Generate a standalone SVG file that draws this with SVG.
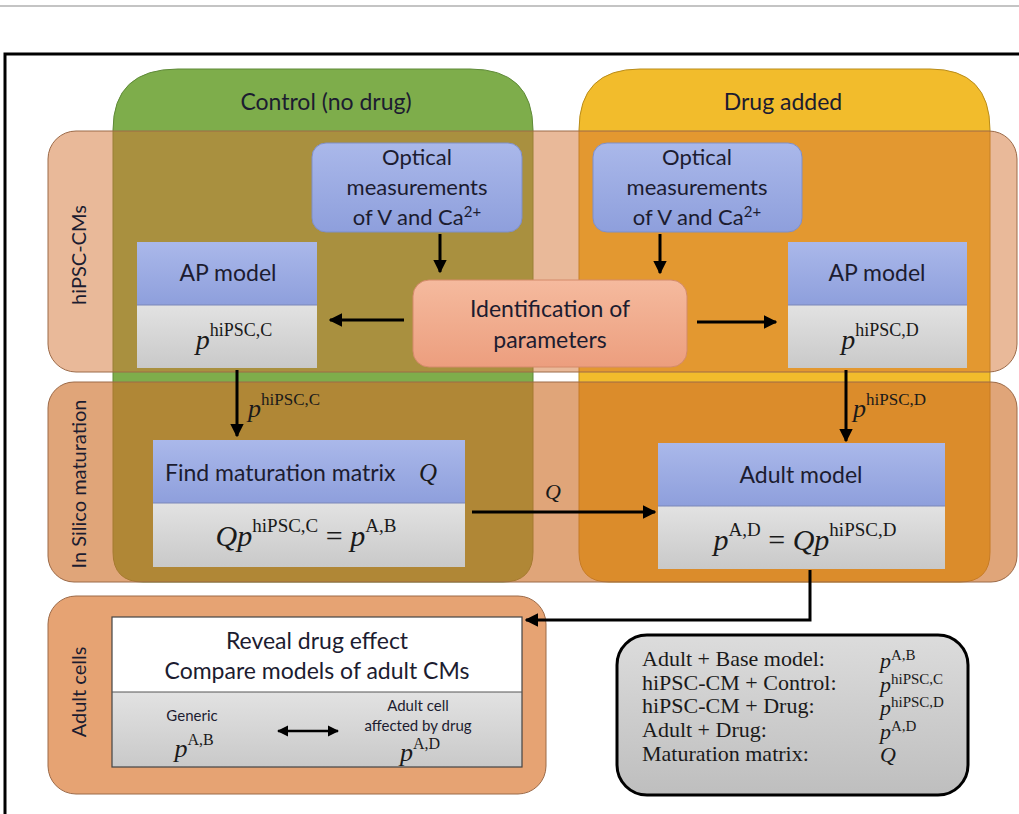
<svg xmlns="http://www.w3.org/2000/svg" width="1019" height="814" viewBox="0 0 1019 814">
<defs>
<linearGradient id="gBlue" x1="0" y1="0" x2="0" y2="1"><stop offset="0" stop-color="#AAB8EA"/><stop offset="1" stop-color="#8E9FDC"/></linearGradient>
<linearGradient id="gGray" x1="0" y1="0" x2="0" y2="1"><stop offset="0" stop-color="#E2E2E2"/><stop offset="1" stop-color="#C9C9C9"/></linearGradient>
<linearGradient id="gSalmon" x1="0" y1="0" x2="0" y2="1"><stop offset="0" stop-color="#F5BA9E"/><stop offset="1" stop-color="#EC9E7E"/></linearGradient>
<linearGradient id="gLegend" x1="0" y1="0" x2="0" y2="1"><stop offset="0" stop-color="#DCDCDC"/><stop offset="1" stop-color="#BEBEBE"/></linearGradient>
<marker id="ah" viewBox="0 0 10 10" refX="9" refY="5" markerWidth="4.5" markerHeight="4.5" orient="auto-start-reverse" markerUnits="strokeWidth"><path d="M0,0 L10,5 L0,10 Z" fill="#000"/></marker>
</defs>
<style>
.sans{font-family:Lato,"Open Sans","Liberation Sans",sans-serif;fill:#1c1c30}
.t23{font-size:23px}
.t22{font-size:22px}
.t20{font-size:20px}
.t15{font-size:15px}
.serif{font-family:"Liberation Serif","DejaVu Serif",serif;fill:#1a1a1a}
.mi{font-style:italic}
.math{font-size:30px}
.sup{font-size:19px}
.lg{font-size:22px}
.lgs{font-size:15px}
.blue{fill:url(#gBlue)}
.gray{fill:url(#gGray)}
.div{stroke:#7a86b8;stroke-width:1}
.conn{stroke:#000;stroke-width:3;fill:none;marker-end:url(#ah)}
</style>
<rect width="1019" height="814" fill="#fff"/>
<line x1="0" y1="6" x2="1019" y2="6" stroke="#c4c4c4" stroke-width="2"/>
<path d="M5,814 V54 H1019" fill="none" stroke="#000" stroke-width="3"/>

<g id="col-control">
<path d="M113,130 Q113,69 178,69 H470 Q533,69 533,130 V552 Q533,582 503,582 H143 Q113,582 113,552 Z" fill="#7EAD4B" stroke="#5f8a38" stroke-width="1"/>
<text class="sans t23" x="326" y="110" text-anchor="middle">Control (no drug)</text>
</g>
<g id="col-drug">
<path d="M579,130 Q579,69 640,69 H930 Q990,69 990,130 V552 Q990,582 960,582 H609 Q579,582 579,552 Z" fill="#F2BC2C" stroke="#b98c1a" stroke-width="1"/>
<text class="sans t23" x="783" y="110" text-anchor="middle">Drug added</text>
</g>

<g id="band-hipsc">
<rect x="48" y="131" width="969" height="241" rx="28" fill="rgb(212,116,52)" fill-opacity="0.5" stroke="#9c6a48" stroke-width="1"/>
<text class="sans t20" transform="translate(86,255) rotate(-90)" text-anchor="middle">hiPSC-CMs</text>
</g>
<g id="band-silico">
<rect x="48" y="382" width="969" height="200" rx="26" fill="rgb(206,112,42)" fill-opacity="0.63" stroke="#9c6a48" stroke-width="1"/>
<text class="sans t20" transform="translate(86,484) rotate(-90)" text-anchor="middle">In Silico maturation</text>
</g>
<g id="band-adult">
<rect x="48" y="596" width="498" height="198" rx="28" fill="#E6A373" stroke="#9c6a48" stroke-width="1"/>
<text class="sans t20" transform="translate(86,692) rotate(-90)" text-anchor="middle">Adult cells</text>
</g>

<g id="opt-left">
<rect x="312" y="143" width="210" height="89" rx="14" class="blue" stroke="#7f8fc8" stroke-width="1"/>
<text class="sans t22" x="417" y="165" text-anchor="middle">Optical</text>
<text class="sans t22" x="417" y="195" text-anchor="middle">measurements</text>
<text class="sans t22" x="417" y="225" text-anchor="middle">of V and Ca<tspan font-size="15" dy="-8">2+</tspan></text>
</g>
<g id="opt-right">
<rect x="593" y="143" width="209" height="89" rx="14" class="blue" stroke="#7f8fc8" stroke-width="1"/>
<text class="sans t22" x="697" y="165" text-anchor="middle">Optical</text>
<text class="sans t22" x="697" y="195" text-anchor="middle">measurements</text>
<text class="sans t22" x="697" y="225" text-anchor="middle">of V and Ca<tspan font-size="15" dy="-8">2+</tspan></text>
</g>

<g id="ap-left">
<rect x="137" y="242" width="180" height="63" class="blue"/>
<rect x="137" y="305" width="180" height="63" class="gray"/>
<line x1="137" y1="305" x2="317" y2="305" class="div"/>
<text class="sans t23" x="228" y="281" text-anchor="middle">AP model</text>
<text class="serif" font-size="28" x="234" y="349" text-anchor="middle"><tspan class="mi">p</tspan><tspan font-size="18" dy="-13">hiPSC,C</tspan></text>
</g>

<g id="ident">
<rect x="413" y="280" width="274" height="87" rx="16" fill="url(#gSalmon)" stroke="#d48a6a" stroke-width="1"/>
<text class="sans t23" x="550" y="317" text-anchor="middle">Identification of</text>
<text class="sans t23" x="550" y="348" text-anchor="middle">parameters</text>
</g>

<g id="ap-right">
<rect x="788" y="242" width="179" height="63" class="blue"/>
<rect x="788" y="305" width="179" height="63" class="gray"/>
<line x1="788" y1="305" x2="967" y2="305" class="div"/>
<text class="sans t23" x="877" y="281" text-anchor="middle">AP model</text>
<text class="serif" font-size="28" x="880" y="349" text-anchor="middle"><tspan class="mi">p</tspan><tspan font-size="18" dy="-13">hiPSC,D</tspan></text>
</g>

<g id="find-q">
<rect x="153" y="440" width="312" height="63" class="blue"/>
<rect x="153" y="503" width="312" height="64" class="gray"/>
<line x1="153" y1="503" x2="465" y2="503" class="div"/>
<text class="sans t23" x="165" y="481">Find maturation matrix</text>
<text class="serif mi" font-size="25" x="419" y="481">Q</text>
<text class="serif math" x="306" y="546" text-anchor="middle"><tspan class="mi">Qp</tspan><tspan class="sup" dy="-14">hiPSC,C</tspan><tspan dy="14"> = </tspan><tspan class="mi">p</tspan><tspan class="sup" dy="-14">A,B</tspan></text>
</g>

<g id="adult-model">
<rect x="658" y="443" width="287" height="63" class="blue"/>
<rect x="658" y="506" width="287" height="63" class="gray"/>
<line x1="658" y1="506" x2="945" y2="506" class="div"/>
<text class="sans t23" x="801" y="483" text-anchor="middle">Adult model</text>
<text class="serif math" x="805" y="550" text-anchor="middle"><tspan class="mi">p</tspan><tspan class="sup" dy="-14">A,D</tspan><tspan dy="14"> = </tspan><tspan class="mi">Qp</tspan><tspan class="sup" dy="-14">hiPSC,D</tspan></text>
</g>

<g id="reveal">
<rect x="112" y="617" width="410" height="75" fill="#fff"/>
<rect x="112" y="692" width="410" height="75" class="gray"/>
<rect x="112" y="617" width="410" height="150" fill="none" stroke="#444" stroke-width="1.2"/>
<line x1="112" y1="692" x2="522" y2="692" stroke="#555" stroke-width="1"/>
<text class="sans t23" x="317" y="649" text-anchor="middle">Reveal drug effect</text>
<text class="sans t23" x="317" y="679" text-anchor="middle">Compare models of adult CMs</text>
<text class="sans t15" x="192" y="721" text-anchor="middle">Generic</text>
<text class="serif" font-size="26" x="194" y="757" text-anchor="middle"><tspan class="mi">p</tspan><tspan font-size="16" dy="-12">A,B</tspan></text>
<text class="sans t15" x="418" y="711" text-anchor="middle">Adult cell</text>
<text class="sans t15" x="418" y="731" text-anchor="middle">affected by drug</text>
<text class="serif" font-size="26" x="420" y="761" text-anchor="middle"><tspan class="mi">p</tspan><tspan font-size="16" dy="-12">A,D</tspan></text>
</g>

<g id="legend">
<rect x="617" y="635" width="351" height="160" rx="30" fill="url(#gLegend)" stroke="#000" stroke-width="3"/>
<g class="serif lg">
<text x="642" y="666">Adult + Base model:</text>
<text x="642" y="690">hiPSC-CM + Control:</text>
<text x="642" y="713">hiPSC-CM + Drug:</text>
<text x="642" y="737">Adult + Drug:</text>
<text x="642" y="761">Maturation matrix:</text>
<text x="880" y="668"><tspan class="mi">p</tspan><tspan class="lgs" dy="-8">A,B</tspan></text>
<text x="880" y="692"><tspan class="mi">p</tspan><tspan class="lgs" dy="-8">hiPSC,C</tspan></text>
<text x="880" y="715"><tspan class="mi">p</tspan><tspan class="lgs" dy="-8">hiPSC,D</tspan></text>
<text x="880" y="739"><tspan class="mi">p</tspan><tspan class="lgs" dy="-8">A,D</tspan></text>
<text x="880" y="762" class="mi">Q</text>
</g>
</g>

<g id="connectors">
<line x1="440" y1="234" x2="440" y2="272" class="conn"/>
<line x1="660" y1="234" x2="660" y2="273" class="conn"/>
<line x1="404" y1="320" x2="330" y2="320" class="conn"/>
<line x1="697" y1="322" x2="776" y2="322" class="conn"/>
<line x1="237" y1="370" x2="237" y2="436" class="conn"/>
<line x1="846" y1="370" x2="846" y2="441" class="conn"/>
<line x1="472" y1="512" x2="655" y2="512" class="conn"/>
<path d="M810,570 V620 H526" class="conn"/>
<line x1="278" y1="731" x2="338" y2="731" stroke="#000" stroke-width="2.5" marker-start="url(#ah)" marker-end="url(#ah)"/>
<text class="serif" font-size="26" x="248" y="417"><tspan class="mi">p</tspan><tspan font-size="17" dy="-12">hiPSC,C</tspan></text>
<text class="serif" font-size="26" x="853" y="417"><tspan class="mi">p</tspan><tspan font-size="17" dy="-12">hiPSC,D</tspan></text>
<text class="serif mi" font-size="22" x="545" y="499">Q</text>
</g>
</svg>
